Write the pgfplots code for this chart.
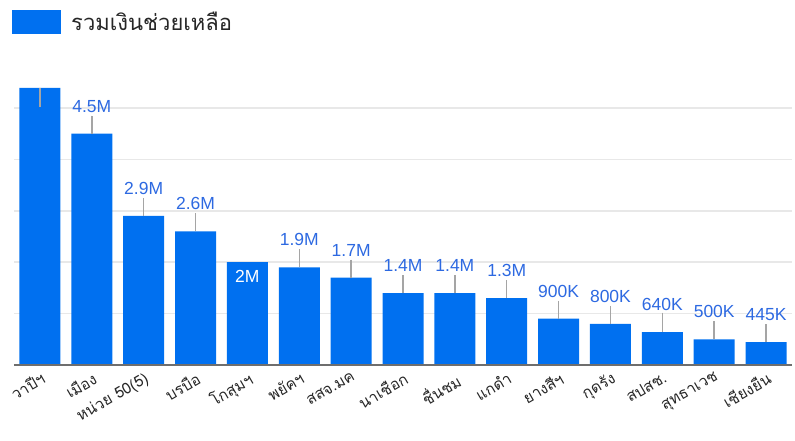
\documentclass[border=0pt]{standalone}
\usepackage{pgfplots}
\pgfplotsset{compat=1.18}
\usepackage{pgfplotstable}
\usepackage{fontspec}
\setmainfont{Liberation Sans}
\newfontfamily\thaifont[Script=Thai]{Loma}
\definecolor{barblue}{RGB}{0,112,240}
\definecolor{lblblue}{RGB}{45,105,225}
\definecolor{stemgray}{RGB}{165,165,165}
\definecolor{gridgray}{RGB}{232,232,232}
\definecolor{basegray}{RGB}{110,110,110}

% values in millions
\pgfplotstableread{
x y ep em lbl
0 5.39 0 0.37 {}
1 4.5 0.35 0 4.5M
2 2.9 0.35 0 2.9M
3 2.6 0.35 0 2.6M
4 2.0 0 0 {}
5 1.9 0.35 0 1.9M
6 1.7 0.35 0 1.7M
7 1.4 0.35 0 1.4M
8 1.4 0.35 0 1.4M
9 1.3 0.35 0 1.3M
10 0.9 0.35 0 900K
11 0.8 0.35 0 800K
12 0.64 0.38 0 640K
13 0.5 0.35 0 500K
14 0.445 0.35 0 445K
}\aid

\begin{document}
\begin{tikzpicture}
\useasboundingbox (0,0) rectangle (795pt,-440pt);
\begin{axis}[
  at={(14pt,-365pt)}, anchor=south west,
  scale only axis, width=778pt, height=308.4pt,
  xmin=-0.5, xmax=14.5, ymin=0, ymax=6,
  axis line style={draw=none},
  ymajorgrids, grid style={gridgray, line width=1.5pt},
  ytick={1,2,3,4,5}, yticklabels={},
  tick style={draw=none},
  xtick={0,...,14},
  xticklabels={วาปีฯ, เมือง, หน่วย 50(5), บรบือ, โกสุมฯ, พยัคฯ, สสจ.มค, นาเชือก, ชื่นชม, แกดำ, ยางสีฯ, กุดรัง, สปสช., สุทธาเวช, เชียงยืน},
  xticklabel style={font=\thaifont\fontsize{15.5}{17}\selectfont, rotate=30, anchor=north east, inner sep=0pt, text=black!85},
  xticklabel shift=6pt,
  legend cell align=left,
  legend style={at={(axis description cs:-0.0064,1.113)}, anchor=west, draw=none, fill=none,
    font=\thaifont\fontsize{22}{24}\selectfont, text=black!85,
    /tikz/every odd column/.append style={column sep=8pt}},
]
\addplot[ybar, bar width=41pt, bar shift=0pt, fill=barblue, draw=none,
  point meta=explicit symbolic, nodes near coords,
  every node near coord/.append style={font=\fontsize{17.5}{19}\selectfont, text=lblblue, anchor=south, inner sep=0pt, yshift=21pt},
  legend image code/.code={\fill[barblue] (0pt,-12pt) rectangle (49pt,12pt);},
  error bars/.cd, y dir=both, y explicit, error mark=none,
  error bar style={stemgray, line width=1.5pt}]
  table[x=x, y=y, y error plus=ep, y error minus=em, meta=lbl]{\aid};
\addlegendentry{รวมเงินช่วยเหลือ}
\addplot[ybar, bar width=41pt, bar shift=0pt, draw=none, fill=none, forget plot,
  point meta=explicit symbolic, nodes near coords,
  every node near coord/.append style={font=\fontsize{17.5}{19}\selectfont, text=white, anchor=south, inner sep=0pt, yshift=-20pt}]
  coordinates {(4,2.0) [2M]};
\addplot[sharp plot, basegray, line width=1.5pt, forget plot] coordinates {(-0.5,0) (14.5,0)};
\end{axis}
\end{tikzpicture}
\end{document}
